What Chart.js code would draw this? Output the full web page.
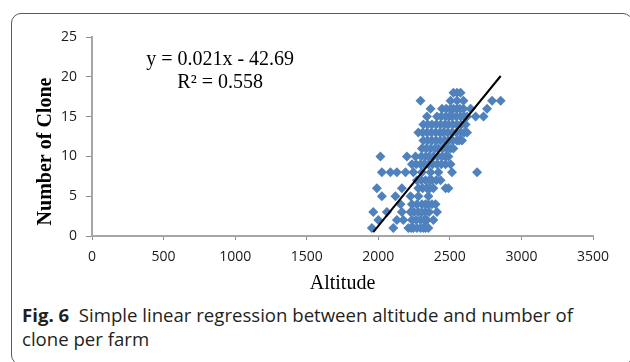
<!DOCTYPE html>
<html>
<head>
<meta charset="utf-8">
<script src="https://cdn.jsdelivr.net/npm/chart.js@4/dist/chart.umd.min.js"></script>
<style>
  html, body { margin: 0; padding: 0; background: #fff; }
  #wrap { position: relative; width: 630px; height: 362px; overflow: hidden; }
  #frame {
    position: absolute; left: 11px; top: 13px; width: 622px; height: 352px;
    border: 1.5px solid #5a5a5a; border-radius: 10px; box-sizing: border-box;
  }
  #plot { position: absolute; left: 0; top: 0; width: 630px; height: 300px; }
  .caption {
    position: absolute; left: 22px; font-family: 'Open Sans', sans-serif;
    font-size: 18.6px; color: #231f20; white-space: nowrap; line-height: 24px;
  }
  .caption b { font-weight: 700; }
</style>
</head>
<body>
<div id="wrap">
  <div id="frame"></div>
  <div id="plot"><canvas id="chart" width="630" height="300"></canvas></div>
  <div class="caption" style="top:303px"><b>Fig. 6</b>&nbsp; Simple linear regression between altitude and number of</div>
  <div class="caption" style="top:327px">clone per farm</div>
</div>
<script>
// survey points: altitude (m) and number of clones per farm
const altitude = [
  2525, 2550, 2575,
  2295, 2505, 2550, 2595, 2795, 2855,
  2365, 2445, 2475, 2505, 2525, 2550, 2570, 2595, 2645, 2760,
  2340, 2410, 2440, 2470, 2495, 2515, 2545, 2575, 2600, 2620, 2680, 2735,
  2315, 2345, 2375, 2405, 2435, 2465, 2490, 2520, 2550, 2580, 2610,
  2280, 2310, 2340, 2370, 2400, 2430, 2455, 2485, 2515, 2545, 2575, 2600, 2620,
  2315, 2345, 2375, 2405, 2435, 2465, 2490, 2520, 2550, 2565, 2585,
  2305, 2335, 2365, 2395, 2420, 2450, 2480, 2505, 2525,
  2015, 2200, 2260, 2300, 2330, 2355, 2385, 2415, 2445, 2470, 2490,
  2235, 2265, 2295, 2320, 2350, 2380, 2410, 2440, 2470, 2505,
  2025, 2085, 2130, 2190, 2245, 2305, 2365, 2420, 2515, 2690,
  2270, 2300, 2330, 2355, 2375, 2405, 2435,
  1990, 2165, 2280, 2310, 2340, 2360, 2385, 2470, 2490,
  2025, 2120, 2225, 2280, 2350,
  2155, 2235, 2270, 2305, 2330, 2350, 2375, 2400,
  1965, 2060, 2165, 2225, 2250, 2280, 2305, 2330, 2355, 2410,
  2000, 2130, 2175, 2235, 2265, 2295, 2320, 2340, 2385,
  1955, 2105, 2210, 2230, 2245, 2270, 2295, 2315, 2330, 2350
];
const clones = [
  18, 18, 18,
  17, 17, 17, 17, 17, 17,
  16, 16, 16, 16, 16, 16, 16, 16, 16, 16,
  15, 15, 15, 15, 15, 15, 15, 15, 15, 15, 15, 15,
  14, 14, 14, 14, 14, 14, 14, 14, 14, 14, 14,
  13, 13, 13, 13, 13, 13, 13, 13, 13, 13, 13, 13, 13,
  12, 12, 12, 12, 12, 12, 12, 12, 12, 12, 12,
  11, 11, 11, 11, 11, 11, 11, 11, 11,
  10, 10, 10, 10, 10, 10, 10, 10, 10, 10, 10,
  9, 9, 9, 9, 9, 9, 9, 9, 9, 9,
  8, 8, 8, 8, 8, 8, 8, 8, 8, 8,
  7, 7, 7, 7, 7, 7, 7,
  6, 6, 6, 6, 6, 6, 6, 6, 6,
  5, 5, 5, 5, 5,
  4, 4, 4, 4, 4, 4, 4, 4,
  3, 3, 3, 3, 3, 3, 3, 3, 3, 3,
  2, 2, 2, 2, 2, 2, 2, 2, 2,
  1, 1, 1, 1, 1, 1, 1, 1, 1, 1
];

// trend line ends as drawn in the figure
const trendX = [1965, 2855];
const trendY = [0.5, 20.1];

const xTicks = [0, 500, 1000, 1500, 2000, 2500, 3000, 3500];
const yTicks = [0, 5, 10, 15, 20, 25];

const equationLines = ['y = 0.021x - 42.69', 'R\u00b2 = 0.558'];
const xTitle = 'Altitude';
const yTitle = 'Number of Clone';

const serif = "'Liberation Serif', 'Times New Roman', serif";
const sans = "'Open Sans', sans-serif";

const points = altitude.map((a, i) => ({ x: a, y: clones[i] }));
const trend = trendX.map((a, i) => ({ x: a, y: trendY[i] }));

// equation box and the off-centre y title, as Excel placed them
const notes = {
  id: 'notes',
  afterDraw(chart) {
    const { ctx, scales: { x, y } } = chart;
    ctx.save();
    ctx.fillStyle = '#000';
    ctx.textAlign = 'center';
    ctx.textBaseline = 'middle';
    ctx.font = '20px ' + serif;
    ctx.fillText(equationLines[0], x.getPixelForValue(895), y.getPixelForValue(22.1));
    ctx.fillText(equationLines[1], x.getPixelForValue(895), y.getPixelForValue(19.3));

    ctx.translate(46, 151.5);
    ctx.rotate(-Math.PI / 2);
    ctx.font = 'bold 20px ' + serif;
    ctx.fillText(yTitle, 0, 0);
    ctx.restore();
  }
};

new Chart(document.getElementById('chart'), {
  type: 'scatter',
  data: {
    datasets: [
      {
        type: 'line',
        data: trend,
        borderColor: '#000',
        borderWidth: 2,
        pointRadius: 0,
        fill: false,
        order: 0,
      },
      {
        data: points,
        pointStyle: 'rectRot',
        pointRadius: 5,
        pointBackgroundColor: '#4f81bd',
        pointBorderWidth: 0,
        order: 1,
      }
    ]
  },
  plugins: [notes],
  options: {
    responsive: false,
    animation: false,
    events: [],
    layout: { padding: { left: 0, top: 37, right: 37, bottom: 0 } },
    plugins: { legend: { display: false }, tooltip: { enabled: false } },
    scales: {
      x: {
        type: 'linear',
        min: 0,
        max: 3500,
        afterBuildTicks: s => { s.ticks = xTicks.map(v => ({ value: v })); },
        afterFit: s => { s.height = 64; },
        border: { color: '#a6a6a6', width: 2 },
        grid: { drawOnChartArea: false, tickLength: 4, color: '#8c8c8c', lineWidth: 1 },
        ticks: { color: '#1a1a1a', padding: 9, font: { family: sans, size: 14 }, callback: v => String(v) },
        title: { display: true, text: xTitle, color: '#000', padding: { top: 0, bottom: 4 }, font: { family: serif, size: 20 } },
      },
      y: {
        type: 'linear',
        min: 0,
        max: 25,
        afterBuildTicks: s => { s.ticks = yTicks.map(v => ({ value: v })); },
        afterFit: s => { s.width = 92; },
        border: { color: '#a6a6a6', width: 2 },
        grid: { drawOnChartArea: false, tickLength: 6, color: '#8c8c8c', lineWidth: 1 },
        ticks: { color: '#1a1a1a', padding: 9, font: { family: sans, size: 14 }, callback: v => String(v) },
      }
    }
  }
});
</script>
</body>
</html>
